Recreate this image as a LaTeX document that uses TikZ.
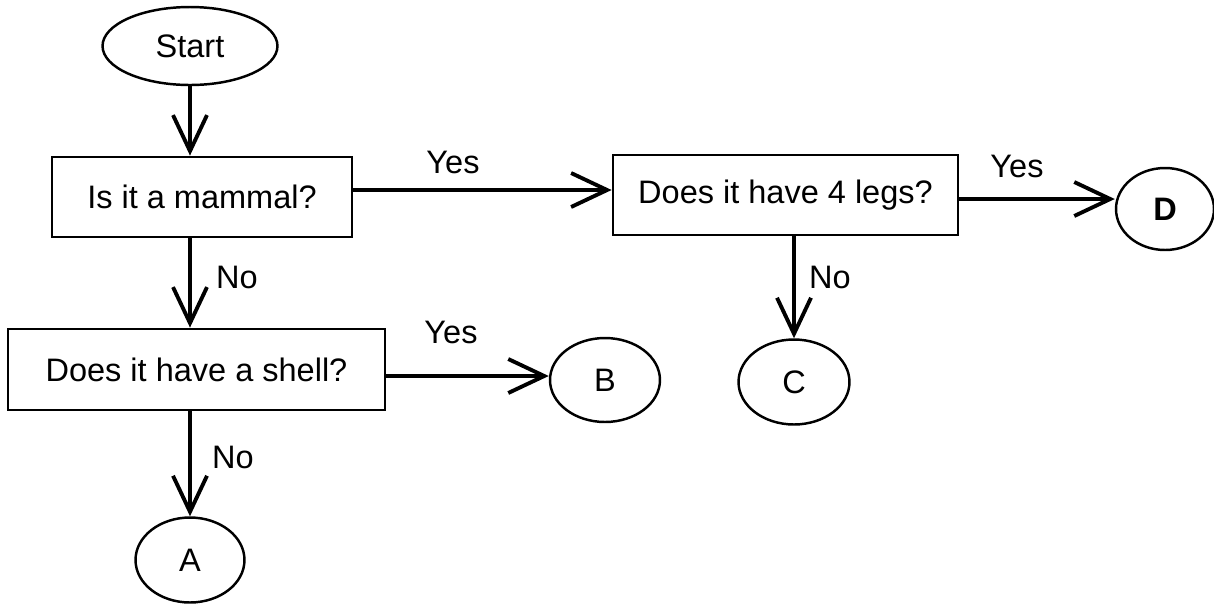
\documentclass[tikz,border=0pt]{standalone}
\usepackage{fontspec}
\setmainfont{Liberation Sans}
\usetikzlibrary{shapes.geometric,arrows.meta}
\begin{document}
\begin{tikzpicture}[x=0.02cm,y=-0.02cm,
  every node/.style={font=\fontsize{18.5}{22}\selectfont},
  box/.style={draw,line width=1.6pt,rectangle,inner sep=0pt,minimum height=1.6cm},
  oval/.style={draw,line width=1.4pt,ellipse,inner sep=0pt},
  flow/.style={line width=2.2pt,-{Straight Barb[length=0.72cm,width=0.68cm,line width=2.2pt]}},
  lbl/.style={inner sep=0pt}]
\useasboundingbox (0,0) rectangle (1214,603);
\node[oval,minimum width=3.5cm,minimum height=1.56cm] (start) at (190,46) {Start};
\node[box,minimum width=6cm] (m) at (202,197) {Is it a mammal?};
\node[box,minimum width=6.9cm] (legs) at (785.5,195) {Does it have 4 legs?};
\node[box,minimum width=7.54cm,minimum height=1.62cm] (s) at (196.5,369.5) {Does it have a shell?};
\node[oval,minimum width=2.18cm,minimum height=1.7cm] (a) at (190,560) {A};
\node[oval,minimum width=2.2cm,minimum height=1.68cm] (b) at (605,380) {B};
\node[oval,minimum width=2.22cm,minimum height=1.7cm] (c) at (794,382) {C};
\node[oval,minimum width=1.96cm,minimum height=1.64cm] (d) at (1165,209) {\bfseries D};
% connectors
\draw[flow] (start.south) -- (start.south |- m.north);
\draw[flow] (m.east |- 0,190) -- (legs.west |- 0,190);
\draw[flow] (legs.east |- 0,199) -- (d.west |- 0,199);
\draw[flow] (start.south |- m.south) -- (start.south |- s.north);
\draw[flow] (c.north |- legs.south) -- (c.north);
\draw[flow] (s.east |- 0,376) -- (b.west |- 0,376);
\draw[flow] (start.south |- s.south) -- (a.north);
% labels
\node[lbl] (y1) at (453,162) {Yes};
\node[lbl] (y2) at (1017,166) {Yes};
\node[lbl] (y3) at (451,332) {Yes};
\node[lbl] (n1) at (237,277) {No};
\node[lbl] (n2) at (830,277) {No};
\node[lbl] (n3) at (233,457) {No};
\end{tikzpicture}
\end{document}
